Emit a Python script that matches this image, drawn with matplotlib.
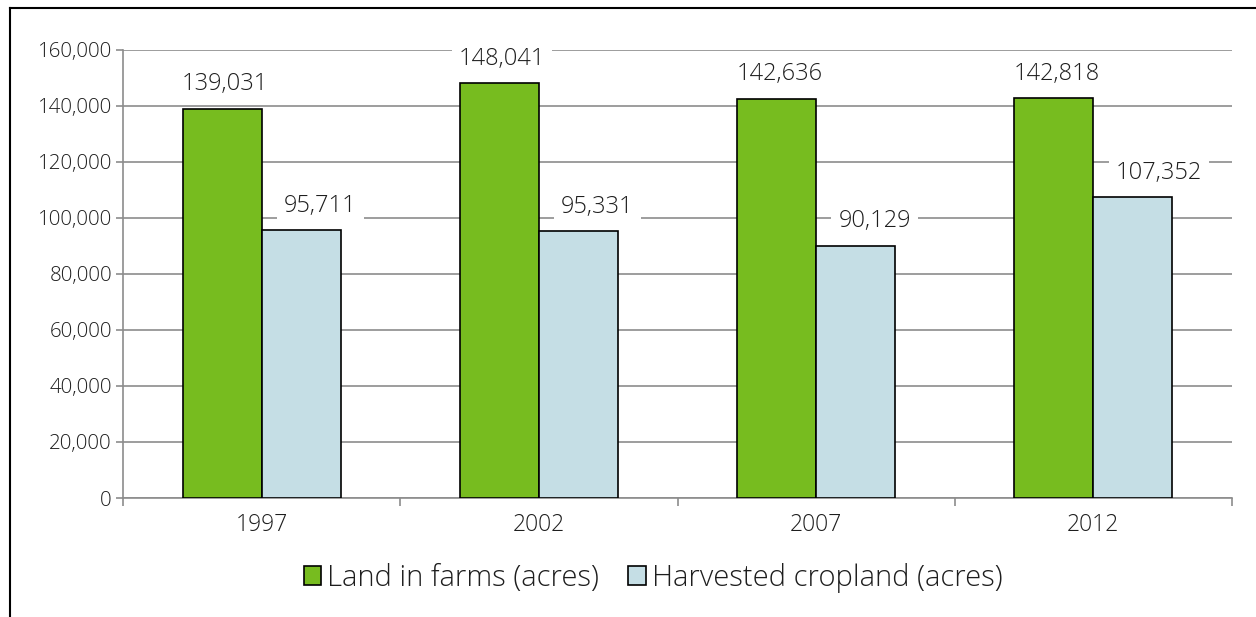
import matplotlib
matplotlib.use("Agg")
import matplotlib.pyplot as plt
from matplotlib.lines import Line2D
from matplotlib.patches import Patch
import numpy as np

years = ["1997", "2002", "2007", "2012"]
land_in_farms = [139031, 148041, 142636, 142818]
harvested = [95711, 95331, 90129, 107352]
series_names = ["Land in farms (acres)", "Harvested cropland (acres)"]
y_ticks = [0, 20000, 40000, 60000, 80000, 100000, 120000, 140000, 160000]

plt.rcParams['font.family'] = ['Open Sans', 'DejaVu Sans']
plt.rcParams['font.weight'] = 'light'
green = "#77BC1F"
blue = "#C5DEE5"
grid_c = "#8C8C8C"
txt_c = "#1E1E1E"

fig = plt.figure(figsize=(12.56, 6.17), dpi=100)
ax = fig.add_axes([123/1256, 1-498/617, (1232-123)/1256, (498-50)/617])

x = np.arange(len(years))
w = 0.285
b1 = ax.bar(x - w/2, land_in_farms, w, color=green, edgecolor="black", linewidth=1.2, zorder=3)
b2 = ax.bar(x + w/2, harvested, w, color=blue, edgecolor="black", linewidth=1.2, zorder=3)

for r, v in zip(b1, land_in_farms):
    ax.annotate(f"{v:,}", (r.get_x() + r.get_width()/2, v), xytext=(2, 9),
                textcoords="offset points", ha="center", va="bottom",
                fontsize=17, color=txt_c, zorder=4,
                bbox=dict(boxstyle="square,pad=0.3", fc="white", ec="none"))
for r, v in zip(b2, harvested):
    ax.annotate(f"{v:,}", (r.get_x(), v), xytext=(16, 9),
                textcoords="offset points", ha="left", va="bottom",
                fontsize=17, color=txt_c, zorder=4,
                bbox=dict(boxstyle="square,pad=0.3", fc="white", ec="none"))

ax.set_xlim(-0.5, 3.5)
ax.set_ylim(0, 160000)
ax.set_yticks(y_ticks)
ax.set_yticklabels([f"{t:,}" for t in y_ticks], fontsize=14.8, color=txt_c)
ax.yaxis.grid(True, color=grid_c, linewidth=1.2, zorder=0)
ax.set_axisbelow(True)

ax.set_xticks([-0.5, 0.5, 1.5, 2.5, 3.5])
ax.set_xticklabels([])
ax.set_xticks(x, minor=True)
ax.set_xticklabels(years, minor=True, fontsize=16.5, color=txt_c)
ax.tick_params(axis="x", which="major", length=6, width=1.2, color=grid_c)
ax.tick_params(axis="x", which="minor", length=0, pad=11)
ax.tick_params(axis="y", length=5, width=1.2, color=grid_c, pad=3)

for s in ("top", "right"):
    ax.spines[s].set_visible(False)
for s in ("left", "bottom"):
    ax.spines[s].set_color(grid_c)
    ax.spines[s].set_linewidth(1.2)

handles = [Patch(facecolor=green, edgecolor="black", linewidth=1.2),
           Patch(facecolor=blue, edgecolor="black", linewidth=1.2)]
leg = fig.legend(handles, series_names, loc="center", bbox_to_anchor=(0.520, 1-578/617),
                 ncol=2, frameon=False, fontsize=21, handlelength=0.6, handleheight=0.6,
                 handletextpad=0.2, columnspacing=1.0, borderaxespad=0)
for t in leg.get_texts():
    t.set_color(txt_c)

fig.add_artist(Line2D([10/1256, 10/1256], [0, 1-8/617], color="black", linewidth=1.5, transform=fig.transFigure))
fig.add_artist(Line2D([10/1256, 1], [1-8/617, 1-8/617], color="black", linewidth=1.5, transform=fig.transFigure))

fig.savefig("out.png", dpi=100)
